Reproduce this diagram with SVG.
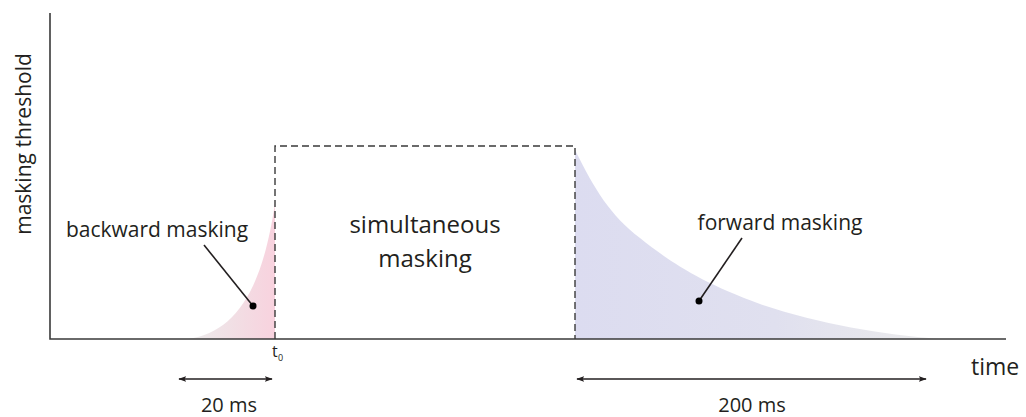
<svg xmlns="http://www.w3.org/2000/svg" width="1026" height="417" viewBox="0 0 1026 417">
<style>
text{font-family:"Open Sans","Noto Sans",sans-serif;fill:#231f20}
.ax{stroke:#3a3a3a;stroke-width:1.6;fill:none}
.lead{stroke:#231f20;stroke-width:1.6}
</style>
<defs>
<linearGradient id="gb" x1="0" y1="0" x2="1" y2="0">
<stop offset="0" stop-color="#ececec"/>
<stop offset="0.55" stop-color="#f2dee4"/>
<stop offset="1" stop-color="#f8d2de"/>
</linearGradient>
<linearGradient id="gf" x1="0" y1="0" x2="1" y2="0">
<stop offset="0" stop-color="#dcdcf0"/>
<stop offset="0.55" stop-color="#e0e0ef"/>
<stop offset="1" stop-color="#ececec"/>
</linearGradient>
<marker id="ah" viewBox="0 0 10 10" refX="9" refY="5" markerWidth="8" markerHeight="8" orient="auto-start-reverse" markerUnits="userSpaceOnUse">
<path d="M0,1.5 L10,5 L0,8.5 L2,5 Z" fill="#231f20"/>
</marker>
</defs>
<g id="areas">
<path d="M188,339 C235,332 262,292 275,203 L275,339 Z" fill="url(#gb)"/>
<path d="M575,150 C595,190 610,215 640,238 C670,262 700,282 760,304 C820,324 880,334 940,339 L575,339 Z" fill="url(#gf)"/>
</g>
<g id="axes">
<path class="ax" d="M50,13 L50,339 L1006,339"/>
<text x="25" y="144" font-size="21" text-anchor="middle" transform="rotate(-90 25 144)" dominant-baseline="middle">masking threshold</text>
<text x="971" y="375" font-size="23">time</text>
<text x="272" y="357" font-size="16">t</text>
<text x="278" y="361" font-size="9">0</text>
</g>
<g id="simultaneous">
<path d="M275,339 L275,146 L575,146 L575,339" fill="none" stroke="#3a3a3a" stroke-width="1.4" stroke-dasharray="7,4"/>
<text x="425" y="233" text-anchor="middle" font-size="24">simultaneous</text>
<text x="425" y="267" text-anchor="middle" font-size="24">masking</text>
</g>
<g id="backward">
<text x="157" y="237" text-anchor="middle" font-size="21">backward masking</text>
<line class="lead" x1="204" y1="245" x2="253" y2="306"/>
<circle cx="253" cy="306" r="3.5" fill="#000"/>
</g>
<g id="forward">
<text x="780" y="230" text-anchor="middle" font-size="21">forward masking</text>
<line class="lead" x1="742" y1="238" x2="699" y2="301"/>
<circle cx="699" cy="301" r="3.5" fill="#000"/>
</g>
<g id="connectors">
<line x1="179" y1="379" x2="272" y2="379" stroke="#231f20" stroke-width="1.6" marker-start="url(#ah)" marker-end="url(#ah)"/>
<line x1="577" y1="379" x2="926" y2="379" stroke="#231f20" stroke-width="1.6" marker-start="url(#ah)" marker-end="url(#ah)"/>
<text x="229" y="412" text-anchor="middle" font-size="20">20 ms</text>
<text x="752" y="412" text-anchor="middle" font-size="20">200 ms</text>
</g>
</svg>
